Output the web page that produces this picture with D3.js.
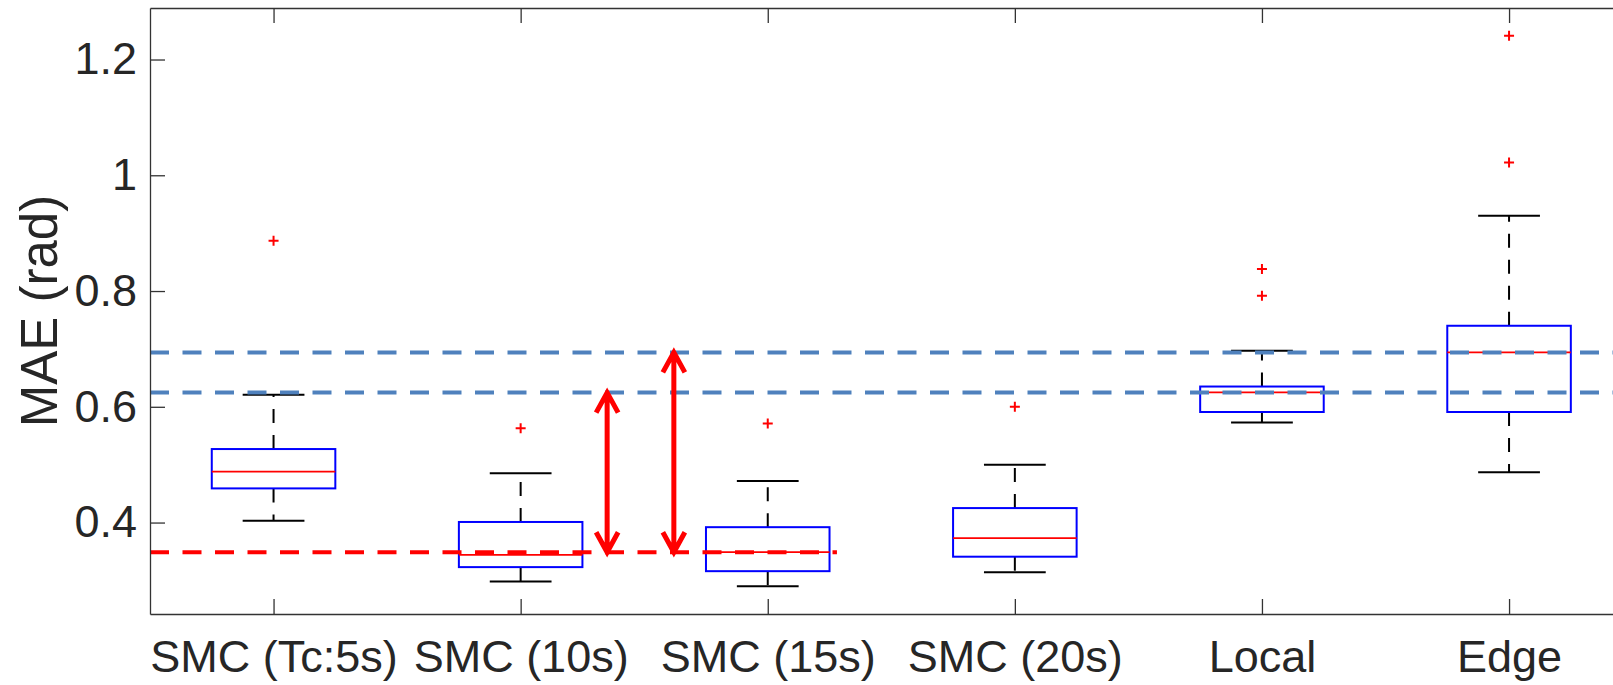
<!DOCTYPE html>
<html>
<head>
<meta charset="utf-8">
<script src="https://cdn.jsdelivr.net/npm/d3@7"></script>
<style>
  body { margin: 0; background: #fff; }
  svg { display: block; }
  text { font-family: "Liberation Sans", Arial, Helvetica, sans-serif; fill: #262626; }
</style>
</head>
<body>
<div id="chart"></div>
<script>
// Box plot data
const categories = ["SMC (Tc:5s)", "SMC (10s)", "SMC (15s)", "SMC (20s)", "Local", "Edge"];
const whiskerLow  = [0.403, 0.298, 0.290, 0.314, 0.573, 0.487];
const q1          = [0.459, 0.323, 0.316, 0.341, 0.591, 0.591];
const medians     = [0.488, 0.344, 0.349, 0.373, 0.625, 0.694];
const q3          = [0.527, 0.401, 0.392, 0.425, 0.635, 0.740];
const whiskerHigh = [0.621, 0.485, 0.472, 0.500, 0.697, 0.930];
const outliers    = [[0.887], [0.563], [0.571], [0.600], [0.838, 0.792], [1.241, 1.022]];

const yTicks = [0.4, 0.6, 0.8, 1, 1.2];

// reference lines: blue = medians of Local / Edge, red = median of SMC (15s)
const blueLines = [0.694, 0.6245];
const redLine = { y: 0.3487, xEnd: 3.28 };
// double arrows (x position in category units, from -> to)
const arrows = [
  { x: 2.35, from: 0.3487, to: 0.6245 },
  { x: 2.62, from: 0.3487, to: 0.694 }
];

const width = 1613;
const height = 685;
const marginLeft = 150, marginTop = 8, axisBottom = 614;
const step = 247.1;

const svg = d3.select('#chart').append('svg')
    .attr('width', width)
    .attr('height', height);

const x = d3.scaleLinear().domain([0.5, 6.5]).range([marginLeft, marginLeft + 6 * step]);
const y = d3.scaleLinear().domain([0.242, 1.289]).range([axisBottom, marginTop]);

const boxW = 0.5, capW = 0.25;

// boxes
const g = svg.append('g');
categories.forEach(function(c, i) {
    const cx = i + 1;
    // whiskers
    g.append('line')
        .attr('x1', x(cx)).attr('x2', x(cx))
        .attr('y1', y(q3[i])).attr('y2', y(whiskerHigh[i]))
        .attr('stroke', '#000').attr('stroke-width', 2).attr('stroke-dasharray', '14,12');
    g.append('line')
        .attr('x1', x(cx)).attr('x2', x(cx))
        .attr('y1', y(q1[i])).attr('y2', y(whiskerLow[i]))
        .attr('stroke', '#000').attr('stroke-width', 2).attr('stroke-dasharray', '14,12');
    // caps
    [whiskerHigh[i], whiskerLow[i]].forEach(function(v) {
        g.append('line')
            .attr('x1', x(cx - capW / 2)).attr('x2', x(cx + capW / 2))
            .attr('y1', y(v)).attr('y2', y(v))
            .attr('stroke', '#000').attr('stroke-width', 2);
    });
    // box
    g.append('rect')
        .attr('x', x(cx - boxW / 2)).attr('width', x(cx + boxW / 2) - x(cx - boxW / 2))
        .attr('y', y(q3[i])).attr('height', y(q1[i]) - y(q3[i]))
        .attr('fill', 'none').attr('stroke', '#0000ff').attr('stroke-width', 2);
    // median
    g.append('line')
        .attr('x1', x(cx - boxW / 2)).attr('x2', x(cx + boxW / 2))
        .attr('y1', y(medians[i])).attr('y2', y(medians[i]))
        .attr('stroke', '#ff0000').attr('stroke-width', 1.7);
    // outliers
    outliers[i].forEach(function(v) {
        g.append('path')
            .attr('d', `M${x(cx) - 5},${y(v)}h10M${x(cx)},${y(v) - 5}v10`)
            .attr('stroke', '#ff0000').attr('stroke-width', 2).attr('fill', 'none');
    });
});

// reference lines
blueLines.forEach(function(v) {
    svg.append('line')
        .attr('x1', x(0.5)).attr('x2', width)
        .attr('y1', y(v)).attr('y2', y(v))
        .attr('stroke', '#4f81bd').attr('stroke-width', 4).attr('stroke-dasharray', '19,13.5');
});
svg.append('line')
    .attr('x1', x(0.5)).attr('x2', x(redLine.xEnd))
    .attr('y1', y(redLine.y)).attr('y2', y(redLine.y))
    .attr('stroke', '#ff0000').attr('stroke-width', 4).attr('stroke-dasharray', '19,13.5');

// arrows
arrows.forEach(function(a) {
    const ax = x(a.x), y0 = y(a.from), y1 = y(a.to);
    svg.append('path')
        .attr('d', `M${ax},${y0}V${y1}M${ax - 11},${y1 + 20}L${ax},${y1}L${ax + 11},${y1 + 20}` +
                   `M${ax - 11},${y0 - 20}L${ax},${y0}L${ax + 11},${y0 - 20}`)
        .attr('fill', 'none').attr('stroke', '#ff0000').attr('stroke-width', 5)
        .attr('stroke-linejoin', 'miter');
});

// axes
const axisColor = '#333';
const xAxis = svg.append('g').attr('transform', `translate(0,${axisBottom})`)
    .call(d3.axisBottom(x).tickValues([1, 2, 3, 4, 5, 6])
        .tickFormat(d => categories[d - 1]).tickSizeInner(-15).tickSizeOuter(0).tickPadding(26));
const xTop = svg.append('g').attr('transform', `translate(0,${marginTop})`)
    .call(d3.axisTop(x).tickValues([1, 2, 3, 4, 5, 6]).tickFormat('').tickSizeInner(-15).tickSizeOuter(0));
const yAxis = svg.append('g').attr('transform', `translate(${marginLeft},0)`)
    .call(d3.axisLeft(y).tickValues(yTicks).tickFormat(d3.format('~g'))
        .tickSizeInner(-15).tickSizeOuter(0).tickPadding(13));
const yRight = svg.append('g').attr('transform', `translate(${x(6.5)},0)`)
    .call(d3.axisRight(y).tickValues(yTicks).tickFormat('').tickSizeInner(-15).tickSizeOuter(0));

[xAxis, xTop, yAxis, yRight].forEach(function(a) {
    a.selectAll('path, line').attr('stroke', axisColor).attr('stroke-width', 1.3);
    a.selectAll('text').attr('font-size', 45).attr('fill', '#262626')
        .attr('font-family', '"Liberation Sans", Arial, sans-serif');
});

// y label
svg.append('text')
    .attr('transform', `translate(57,${(marginTop + axisBottom) / 2}) rotate(-90)`)
    .attr('text-anchor', 'middle')
    .attr('font-size', 51)
    .text('MAE (rad)');
</script>
</body>
</html>
